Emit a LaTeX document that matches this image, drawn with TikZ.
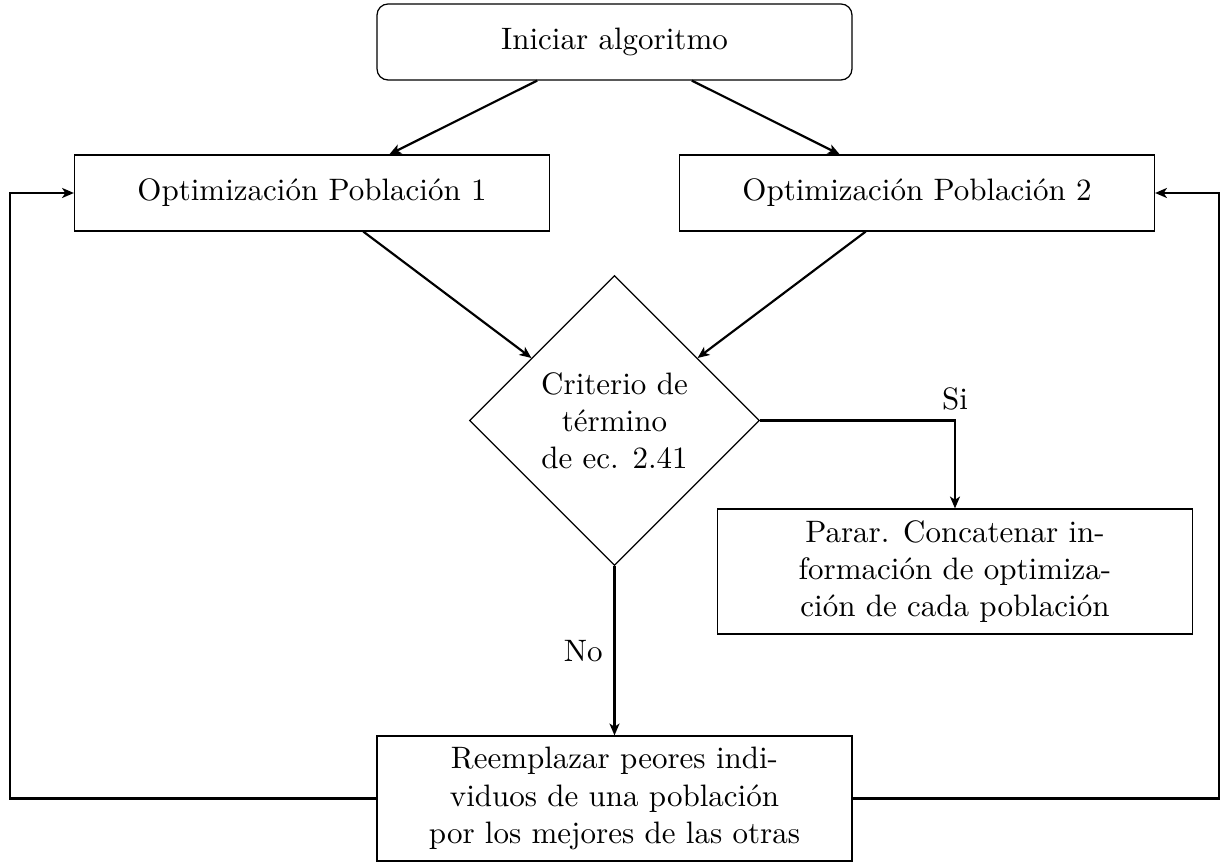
\documentclass[tikz,border=0pt]{standalone}
\usetikzlibrary{shapes.geometric,arrows.meta}
\begin{document}
\begin{tikzpicture}[x=0.3226pt,y=-0.3226pt,
  boxstyle/.style={draw,rectangle,minimum width=153.2pt,inner sep=0pt,align=center},
  startstyle/.style={boxstyle,rounded corners=3.5pt,minimum height=24.5pt},
  optstyle/.style={boxstyle,minimum height=24.5pt},
  tallstyle/.style={boxstyle,minimum height=40.3pt},
  decstyle/.style={draw,diamond,minimum width=93.5pt,minimum height=93.5pt,inner sep=0pt,align=center},
  conn/.style={line width=0.7pt,-{Stealth[length=3.8pt,width=3.2pt,inset=1pt]}},
  plainconn/.style={line width=0.7pt}]
\useasboundingbox (0,0) rectangle (1222,862);
\node[startstyle] (start) at (614.5,42) {Iniciar algoritmo};
\node[optstyle] (opt1) at (312,193) {Optimizaci\'on Poblaci\'on 1};
\node[optstyle] (opt2) at (917,193) {Optimizaci\'on Poblaci\'on 2};
\node[decstyle] (dia) at (614.5,420.5) {Criterio de\\t\'ermino\\de ec. 2.41};
\node[tallstyle] (parar) at (955,571.5) {Parar. Concatenar in-\\formaci\'on de optimiza-\\ci\'on de cada poblaci\'on};
\node[tallstyle] (reemp) at (614.5,798.5) {Reemplazar peores indi-\\viduos de una poblaci\'on\\por los mejores de las otras};
\coordinate (lc) at (10,798.5);
\coordinate (rc) at (1219,798.5);
\draw[conn] (start) -- (opt1);
\draw[conn] (start) -- (opt2);
\draw[conn] (opt1) -- (dia);
\draw[conn] (opt2) -- (dia);
\draw[conn] (dia.east) -| node[pos=0.5,above,inner sep=3pt] (si) {Si} (parar.north);
\draw[conn] (dia.south) -- node[pos=0.5,left,inner sep=3.5pt] (no) {No} (reemp.north);
\draw[conn] (reemp.west) -- (lc) |- (opt1.west);
\draw[conn] (reemp.east) -- (rc) |- (opt2.east);
\end{tikzpicture}
\end{document}
